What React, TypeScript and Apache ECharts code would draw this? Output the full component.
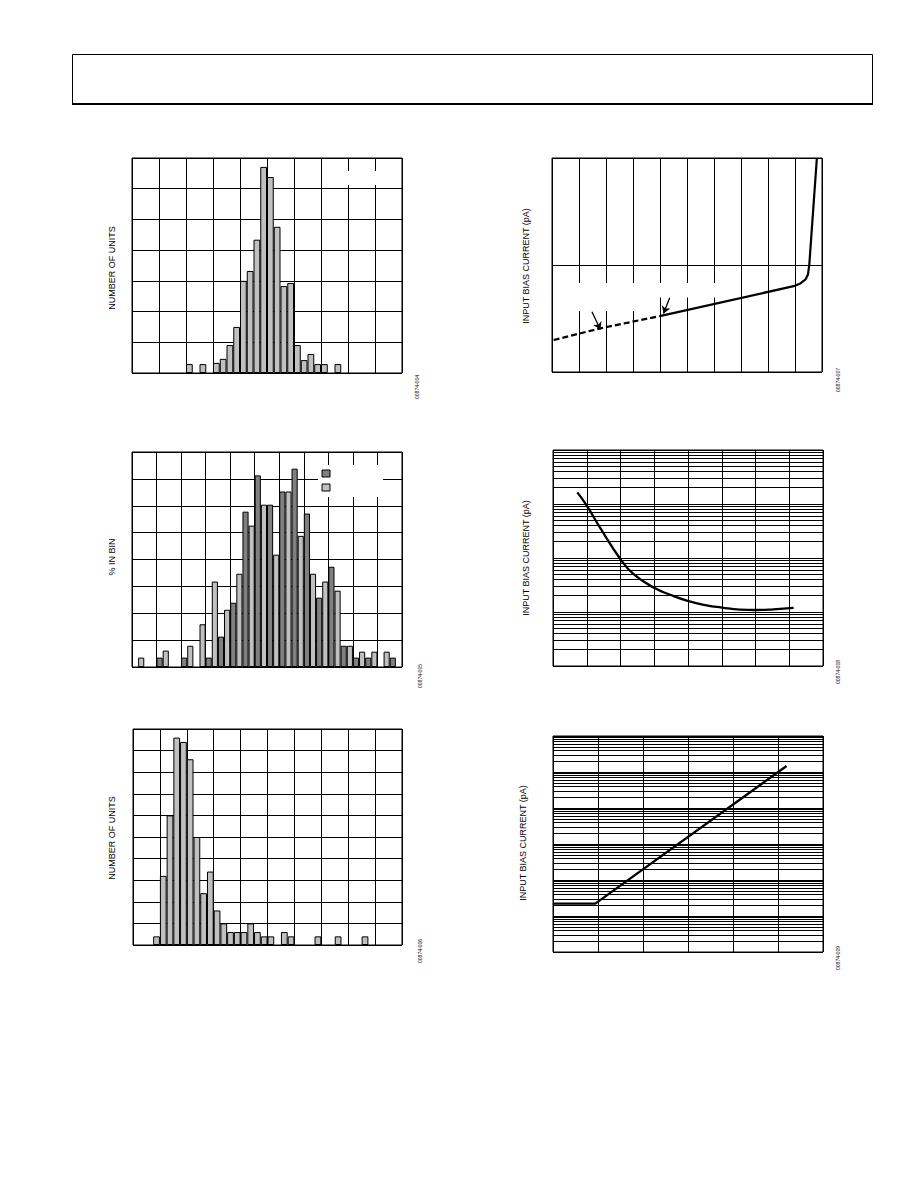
import React, { useEffect, useRef } from "react";
import * as echarts from "echarts";

// ---------- Chart 1: histogram (number of units) ----------
const h1Bins = Array.from({ length: 40 }, (_, i) => `b${i + 1}`);
const h1Counts = [0, 0, 0, 0, 0, 0, 0, 0, 2.9, 0, 2.9, 0, 3.3, 4.6, 9.1, 15, 30, 33.2, 43.4, 67.1, 63.8, 47.6, 28.3, 29.3, 9.1, 4.2, 6.2, 2.9, 2.9, 0, 2.9, 0, 0, 0, 0, 0, 0, 0, 0, 0];

// ---------- Chart 2: % in bin, two series ----------
const h2Bins = Array.from({ length: 22 }, (_, i) => `c${i + 1}`);
const h2Dark = [0, 0, 0.35, 0, 0.35, 0, 0.35, 1.13, 2.39, 5.78, 7.13, 6.04, 6.53, 7.38, 5.71, 2.58, 3.73, 0.79, 0.35, 0.35, 0, 0.35];
const h2Light = [0.35, 0, 0.61, 0, 0.79, 1.59, 3.18, 2.13, 3.47, 5.26, 6.04, 4.18, 6.53, 4.88, 3.47, 3.18, 2.84, 0.79, 0.57, 0.57, 0.57, 0];

// ---------- Chart 3: histogram (number of units) ----------
const h3Bins = Array.from({ length: 40 }, (_, i) => `d${i + 1}`);
const h3Counts = [0, 0, 0, 2, 16, 30, 48, 47, 43, 25, 12, 17, 8, 5, 3, 3, 3, 5, 3, 2, 2, 0, 3, 2, 0, 0, 0, 2, 0, 0, 2, 0, 0, 0, 2, 0, 0, 0, 0, 0];

// ---------- Chart 4: input bias current (log), dashed + solid ----------
const c4Dashed = [[0.06, 1.99], [1.79, 2.56], [3.99, 3.33]];
const c4Solid = [[3.99, 3.33], [8.95, 6.34], [9.2, 6.72], [9.39, 7.33], [9.48, 8.15], [9.53, 10.1], [9.81, 100]];
const c4Arrows = [
  [[1.48, 3.66], [1.79, 2.5]],
  [[4.36, 4.94], [4.13, 3.53]],
];

// ---------- Chart 5: input bias current (log) ----------
const c5Curve = [[0.72, 1641], [0.99, 955], [1.39, 368], [2.0, 95], [2.38, 51], [3.0, 28], [3.47, 20.9], [3.99, 16.1], [4.55, 13.3], [5.0, 12.1], [5.54, 11.1], [6.01, 10.9], [6.53, 11.2], [7.13, 11.9]];

// ---------- Chart 6: input bias current (log) ----------
const c6Curve = [[0, 22], [0.94, 22], [5.19, 146900]];

const codeLabels = ["00874-004", "00874-005", "00874-006", "00874-007", "00874-008", "00874-009"];

const BLACK = "#000";
const LIGHT = "#c0c0c0";
const DARK = "#808080";
const FONT = "'Liberation Sans', Arial, sans-serif";

function logMinor(decades: number) {
  const out: any[] = [];
  for (let d = 0; d < decades; d++) {
    for (let k = 2; k <= 9; k++) out.push({ yAxis: k * Math.pow(10, d) });
  }
  return out;
}

const hidden = {
  axisLine: { show: false },
  axisTick: { show: false },
  axisLabel: { show: false },
};
const split = { show: true, lineStyle: { color: BLACK, width: 1, type: "solid" } };

function catX(grid: number, data: string[], interval: number) {
  return {
    type: "category",
    gridIndex: grid,
    data,
    boundaryGap: true,
    ...hidden,
    splitLine: { ...split, interval },
  };
}
function valAxis(grid: number, min: number, max: number, interval: number) {
  return { type: "value", gridIndex: grid, min, max, interval, ...hidden, splitLine: split };
}
function logAxis(grid: number, min: number, max: number) {
  return { type: "log", logBase: 10, gridIndex: grid, min, max, ...hidden, splitLine: split };
}

const nz = (a: number[]) => a.map((v) => (v === 0 ? null : v));

export default function App() {
  const ref = useRef<HTMLDivElement>(null);
  useEffect(() => {
    if (!ref.current) return;
    const chart = echarts.init(ref.current, undefined, { renderer: "svg" });
    const gridBox = [
      { left: 132, top: 158, width: 270, height: 215 },
      { left: 132, top: 452, width: 270, height: 215 },
      { left: 133, top: 729, width: 269, height: 216 },
      { left: 552, top: 158, width: 270, height: 214 },
      { left: 553, top: 450, width: 270, height: 216 },
      { left: 553, top: 736, width: 270, height: 216 },
    ];
    const barStyle = (c: string) => ({ color: c, borderColor: BLACK, borderWidth: 1 });
    const minorLine = (decades: number) => ({
      silent: true,
      symbol: "none",
      label: { show: false },
      lineStyle: { color: BLACK, width: 1, type: "solid" },
      data: logMinor(decades),
      z: 1,
    });

    const titles = [
      { text: "NUMBER OF UNITS", x: 112, y: 268 },
      { text: "% IN BIN", x: 112, y: 557 },
      { text: "NUMBER OF UNITS", x: 112, y: 838 },
      { text: "INPUT BIAS CURRENT (pA)", x: 526, y: 266 },
      { text: "INPUT BIAS CURRENT (pA)", x: 526, y: 558 },
      { text: "INPUT BIAS CURRENT (pA)", x: 523, y: 843 },
    ];
    const codePos = [
      { x: 417, y: 387 },
      { x: 420, y: 676 },
      { x: 420, y: 951 },
      { x: 838, y: 380 },
      { x: 838, y: 672 },
      { x: 838, y: 958 },
    ];

    const graphics: any[] = [
      // page header box
      { type: "rect", shape: { x: 72.5, y: 54.5, width: 800, height: 49 }, style: { fill: "none", stroke: BLACK, lineWidth: 1 }, z: 5 },
      { type: "line", shape: { x1: 72, y1: 104, x2: 873, y2: 104 }, style: { stroke: BLACK, lineWidth: 2 }, z: 5 },
      // blanked legend areas
      { type: "rect", shape: { x: 338, y: 171, width: 50, height: 14 }, style: { fill: "#fff" }, z: 1 },
      { type: "rect", shape: { x: 318, y: 465, width: 65, height: 32 }, style: { fill: "#fff" }, z: 1 },
      { type: "rect", shape: { x: 322, y: 470, width: 8, height: 7 }, style: { fill: DARK, stroke: BLACK, lineWidth: 1 }, z: 3 },
      { type: "rect", shape: { x: 322, y: 484, width: 8, height: 7 }, style: { fill: LIGHT, stroke: BLACK, lineWidth: 1 }, z: 3 },
      // blanked annotation areas in chart 4
      { type: "rect", shape: { x: 560, y: 283, width: 86, height: 28 }, style: { fill: "#fff" }, z: 1 },
      { type: "rect", shape: { x: 646, y: 283, width: 80, height: 14.5 }, style: { fill: "#fff" }, z: 1 },
      ...titles.map((t) => ({
        type: "text",
        x: t.x,
        y: t.y,
        rotation: Math.PI / 2,
        z: 5,
        style: { text: t.text, fontSize: 9, fontFamily: FONT, fill: BLACK, align: "center", verticalAlign: "middle" },
      })),
      ...codeLabels.map((c, i) => ({
        type: "text",
        x: codePos[i].x,
        y: codePos[i].y,
        rotation: Math.PI / 2,
        z: 5,
        style: { text: c, fontSize: 5, fontFamily: FONT, fill: BLACK, align: "center", verticalAlign: "middle" },
      })),
    ];

    const option: any = {
      animation: false,
      backgroundColor: "#fff",
      grid: gridBox.map((g) => ({ ...g, show: true, borderColor: BLACK, borderWidth: 1, backgroundColor: "transparent" })),
      xAxis: [
        catX(0, h1Bins, 3),
        catX(1, h2Bins, 1),
        catX(2, h3Bins, 3),
        valAxis(3, 0, 10, 1),
        valAxis(4, 0, 8, 1),
        valAxis(5, 0, 6, 1),
      ],
      yAxis: [
        valAxis(0, 0, 70, 10),
        valAxis(1, 0, 8, 1),
        valAxis(2, 0, 50, 5),
        logAxis(3, 1, 100),
        logAxis(4, 1, 10000),
        logAxis(5, 1, 1000000),
      ],
      graphic: graphics,
      series: [
        { type: "bar", xAxisIndex: 0, yAxisIndex: 0, data: nz(h1Counts), barCategoryGap: "0%", itemStyle: barStyle(LIGHT) },
        { type: "bar", xAxisIndex: 1, yAxisIndex: 1, data: nz(h2Dark), barGap: "0%", barCategoryGap: "0%", itemStyle: barStyle(DARK) },
        { type: "bar", xAxisIndex: 1, yAxisIndex: 1, data: nz(h2Light), barGap: "0%", barCategoryGap: "0%", itemStyle: barStyle(LIGHT) },
        { type: "bar", xAxisIndex: 2, yAxisIndex: 2, data: nz(h3Counts), barCategoryGap: "0%", itemStyle: barStyle(LIGHT) },
        {
          type: "line", xAxisIndex: 3, yAxisIndex: 3, data: c4Dashed, symbol: "none",
          lineStyle: { color: BLACK, width: 2.2, type: [6, 3] },
          markLine: {
            silent: true,
            symbol: ["none", "arrow"],
            symbolSize: 7,
            label: { show: false },
            lineStyle: { color: BLACK, width: 1.3, type: "solid" },
            data: c4Arrows.map(([a, b]) => [{ coord: a }, { coord: b }]),
          },
        },
        { type: "line", xAxisIndex: 3, yAxisIndex: 3, data: c4Solid, symbol: "none", lineStyle: { color: BLACK, width: 2.2 } },
        {
          type: "line", xAxisIndex: 4, yAxisIndex: 4, data: c5Curve, symbol: "none", smooth: 0.5,
          lineStyle: { color: BLACK, width: 2.3 }, markLine: minorLine(4),
        },
        {
          type: "line", xAxisIndex: 5, yAxisIndex: 5, data: c6Curve, symbol: "none",
          lineStyle: { color: BLACK, width: 2.3 }, markLine: minorLine(6),
        },
      ],
    };
    chart.setOption(option);
    return () => chart.dispose();
  }, []);
  return <div ref={ref} style={{ position: "absolute", left: 0, top: 0, width: 918, height: 1188 }} />;
}
